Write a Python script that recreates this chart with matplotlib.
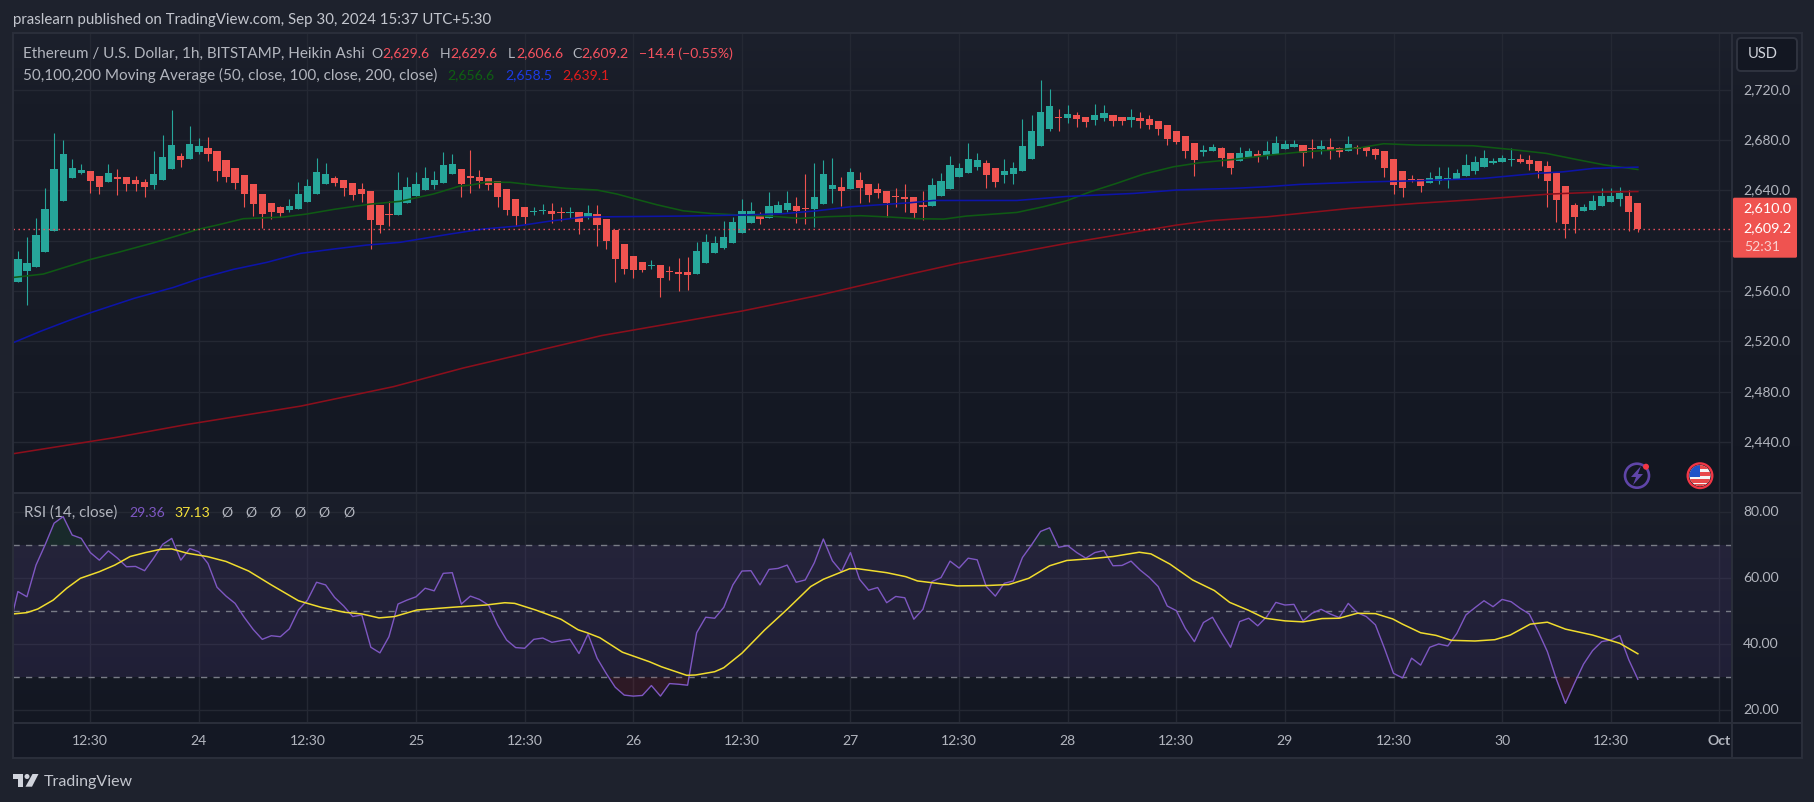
import numpy as np
import matplotlib
matplotlib.use("Agg")
import matplotlib.pyplot as plt
from matplotlib.patches import Circle, FancyBboxPatch, Polygon, Rectangle

W, H = 1815, 802

# Heikin Ashi candles, one per hour
opens = [
    2567.1, 2575.9, 2579.0, 2591.0, 2607.7, 2631.5, 2649.8, 2653.8, 2655.4, 2651.4,
    2646.6, 2650.6, 2650.6, 2648.2, 2646.6, 2644.2, 2648.2, 2657.0, 2667.3, 2664.9,
    2670.5, 2673.7, 2671.3, 2664.1, 2657.8, 2652.2, 2645.0, 2637.1, 2629.9, 2626.7,
    2624.4, 2625.2, 2630.7, 2637.1, 2645.0, 2649.8, 2648.2, 2645.8, 2641.0, 2639.5,
    2628.3, 2621.2, 2620.4, 2629.9, 2635.5, 2640.3, 2644.2, 2645.8, 2653.0, 2657.0,
    2651.4, 2650.6, 2649.8, 2647.4, 2641.0, 2633.1, 2626.7, 2623.0, 2623.8, 2623.6,
    2622.8, 2622.2, 2622.8, 2618.8, 2621.2, 2617.2, 2608.5, 2597.3, 2587.8, 2583.0,
    2580.0, 2580.6, 2575.9, 2575.1, 2575.1, 2573.5, 2582.2, 2590.2, 2594.2, 2598.1,
    2606.1, 2614.0, 2619.6, 2618.0, 2622.0, 2624.4, 2627.5, 2626.0, 2625.2, 2629.1,
    2641.0, 2642.7, 2641.0, 2648.2, 2645.0, 2641.0, 2639.5, 2635.5, 2634.7, 2634.7,
    2628.3, 2627.5, 2635.5, 2641.0, 2650.6, 2653.8, 2658.6, 2661.7, 2657.8, 2652.2,
    2653.0, 2655.4, 2664.9, 2675.2, 2688.8, 2698.3, 2697.5, 2699.9, 2698.3, 2695.9,
    2697.5, 2699.9, 2698.3, 2695.9, 2697.5, 2696.7, 2695.1, 2691.9, 2687.2, 2683.2,
    2677.6, 2670.5, 2671.3, 2673.7, 2669.7, 2663.3, 2666.5, 2668.9, 2667.3, 2668.9,
    2672.9, 2674.5, 2676.0, 2673.7, 2672.9, 2674.5, 2673.7, 2671.3, 2674.5, 2674.5,
    2672.9, 2671.3, 2664.9, 2655.4, 2649.0, 2649.0, 2645.8, 2647.4, 2649.0, 2649.0,
    2651.4, 2655.4, 2658.6, 2661.7, 2662.5, 2664.4, 2664.9, 2664.1, 2663.3, 2659.3,
    2653.8, 2643.4, 2628.3, 2623.6, 2624.4, 2627.5, 2630.7, 2633.1, 2635.5, 2629.6,
]
closes = [
    2585.4, 2582.2, 2604.5, 2625.2, 2657.0, 2668.9, 2657.8, 2656.2, 2647.4, 2642.7,
    2653.8, 2649.0, 2645.0, 2645.0, 2642.7, 2653.0, 2666.5, 2676.0, 2664.1, 2676.8,
    2675.2, 2668.9, 2655.4, 2650.6, 2645.8, 2637.1, 2629.1, 2621.2, 2622.8, 2622.0,
    2627.5, 2637.1, 2643.4, 2654.6, 2653.0, 2645.8, 2641.9, 2636.3, 2637.1, 2616.4,
    2612.4, 2620.4, 2640.3, 2642.7, 2645.0, 2649.8, 2648.2, 2660.1, 2660.9, 2645.0,
    2649.8, 2647.4, 2644.2, 2634.7, 2624.4, 2619.6, 2618.8, 2623.6, 2624.4, 2621.2,
    2622.2, 2622.8, 2614.8, 2622.0, 2612.4, 2599.7, 2585.4, 2577.5, 2576.7, 2576.7,
    2580.6, 2570.3, 2575.1, 2573.5, 2572.7, 2591.8, 2598.9, 2598.1, 2602.9, 2614.8,
    2623.6, 2623.6, 2617.2, 2627.5, 2628.3, 2629.9, 2623.6, 2625.2, 2634.7, 2653.0,
    2644.2, 2639.5, 2654.6, 2641.9, 2636.3, 2637.9, 2629.9, 2634.7, 2633.1, 2622.0,
    2626.7, 2644.2, 2647.4, 2660.1, 2657.8, 2664.9, 2664.1, 2652.2, 2646.6, 2655.4,
    2657.8, 2675.2, 2687.2, 2702.3, 2707.0, 2697.5, 2700.7, 2696.7, 2694.3, 2699.9,
    2701.5, 2695.1, 2695.1, 2698.3, 2695.1, 2691.9, 2688.8, 2680.8, 2678.4, 2671.3,
    2664.1, 2672.1, 2674.5, 2665.7, 2657.8, 2669.7, 2671.3, 2666.5, 2671.3, 2677.6,
    2676.8, 2676.8, 2669.7, 2672.9, 2675.2, 2672.1, 2670.5, 2676.8, 2672.9, 2671.3,
    2668.1, 2657.8, 2644.2, 2641.9, 2648.2, 2643.4, 2649.8, 2651.4, 2649.8, 2653.8,
    2660.1, 2662.5, 2665.7, 2663.3, 2665.7, 2664.9, 2662.5, 2660.9, 2655.4, 2647.4,
    2632.3, 2613.2, 2618.8, 2626.7, 2631.5, 2635.5, 2635.5, 2637.9, 2622.8, 2609.2,
]
highs = [
    2591.8, 2602.9, 2618.0, 2641.9, 2685.6, 2680.0, 2664.9, 2660.9, 2655.4, 2651.4,
    2660.9, 2657.0, 2650.6, 2651.4, 2649.0, 2671.3, 2684.0, 2703.9, 2669.7, 2691.1,
    2681.6, 2682.4, 2671.3, 2664.1, 2657.8, 2652.2, 2645.0, 2637.1, 2629.9, 2627.5,
    2633.1, 2646.6, 2649.0, 2665.7, 2661.7, 2651.4, 2648.2, 2645.8, 2645.8, 2639.5,
    2628.3, 2631.5, 2654.6, 2650.6, 2654.6, 2658.6, 2655.4, 2670.5, 2668.9, 2657.0,
    2672.0, 2656.2, 2649.8, 2647.4, 2641.0, 2633.1, 2626.7, 2626.7, 2629.1, 2629.9,
    2626.7, 2626.7, 2622.8, 2628.3, 2628.3, 2617.2, 2608.5, 2597.3, 2587.8, 2583.0,
    2584.6, 2580.6, 2579.8, 2586.2, 2587.0, 2598.9, 2605.3, 2603.7, 2615.6, 2618.8,
    2633.1, 2630.7, 2622.8, 2638.7, 2631.5, 2639.5, 2634.7, 2653.0, 2661.7, 2664.1,
    2665.7, 2650.6, 2657.8, 2654.6, 2645.0, 2645.8, 2639.5, 2641.9, 2645.0, 2634.7,
    2639.5, 2649.8, 2653.8, 2667.3, 2661.7, 2677.6, 2669.7, 2664.1, 2657.8, 2664.9,
    2662.5, 2696.7, 2699.9, 2727.7, 2720.6, 2704.7, 2707.8, 2702.3, 2698.3, 2708.6,
    2707.8, 2699.9, 2698.3, 2704.7, 2702.3, 2699.9, 2695.1, 2691.9, 2687.2, 2683.2,
    2677.6, 2676.0, 2676.8, 2674.5, 2669.7, 2674.5, 2673.7, 2672.1, 2679.2, 2683.2,
    2680.0, 2680.0, 2676.0, 2680.8, 2680.0, 2681.6, 2674.5, 2683.2, 2676.0, 2675.2,
    2673.7, 2671.3, 2664.9, 2655.4, 2652.2, 2649.0, 2654.6, 2658.6, 2658.6, 2657.0,
    2668.9, 2667.3, 2672.1, 2665.7, 2668.1, 2673.7, 2668.9, 2668.1, 2663.3, 2663.3,
    2654.6, 2643.4, 2629.9, 2629.1, 2636.3, 2641.9, 2641.9, 2642.7, 2640.3, 2629.6,
]
lows = [
    2567.1, 2548.8, 2579.0, 2591.0, 2607.7, 2631.5, 2649.8, 2653.0, 2637.9, 2637.1,
    2646.6, 2636.3, 2639.5, 2639.5, 2634.7, 2641.0, 2648.2, 2657.0, 2658.6, 2664.9,
    2668.9, 2663.3, 2647.4, 2646.6, 2641.0, 2626.7, 2619.6, 2610.1, 2617.2, 2618.8,
    2622.8, 2625.2, 2630.7, 2637.1, 2645.0, 2643.4, 2635.5, 2632.3, 2630.7, 2593.4,
    2606.1, 2611.6, 2620.4, 2629.9, 2635.5, 2640.3, 2641.0, 2645.8, 2653.0, 2634.7,
    2637.9, 2641.9, 2640.3, 2626.7, 2620.4, 2611.6, 2613.2, 2620.4, 2621.2, 2614.0,
    2615.6, 2618.0, 2605.3, 2617.2, 2595.7, 2593.4, 2567.1, 2573.5, 2570.3, 2575.1,
    2577.5, 2555.2, 2568.7, 2560.0, 2560.8, 2573.5, 2582.2, 2590.2, 2593.4, 2598.1,
    2606.1, 2614.0, 2613.2, 2618.0, 2622.0, 2622.8, 2614.0, 2613.2, 2610.8, 2629.1,
    2629.9, 2627.5, 2641.0, 2629.9, 2630.7, 2633.9, 2618.8, 2626.7, 2622.8, 2618.0,
    2616.4, 2627.5, 2635.5, 2641.0, 2650.6, 2653.8, 2656.2, 2641.9, 2642.7, 2645.8,
    2645.0, 2655.4, 2664.9, 2675.2, 2687.2, 2687.2, 2693.5, 2690.4, 2690.4, 2691.9,
    2695.1, 2691.1, 2691.9, 2690.4, 2689.6, 2688.8, 2684.0, 2676.0, 2676.8, 2665.7,
    2651.4, 2667.3, 2671.3, 2659.3, 2653.0, 2663.3, 2666.5, 2662.5, 2664.9, 2668.9,
    2672.9, 2674.5, 2659.3, 2665.7, 2668.9, 2664.9, 2666.5, 2671.3, 2668.9, 2667.3,
    2664.9, 2650.6, 2637.1, 2634.7, 2646.6, 2638.7, 2645.8, 2645.0, 2641.9, 2649.0,
    2651.4, 2653.0, 2658.6, 2660.9, 2662.5, 2659.3, 2661.7, 2656.2, 2649.8, 2626.7,
    2614.8, 2602.1, 2606.1, 2623.6, 2624.4, 2627.5, 2630.7, 2627.5, 2607.7, 2606.6,
]

ma50_bar = [
    -0.5, 2.8, 5.4, 8, 10.9, 15, 17.5, 19.9, 22, 24.9, 27.5, 29.3, 31.9, 34.9, 38.9, 42.2, 45.9,
    48.8, 50, 51.8, 54.4, 57.3, 60.6, 64, 66.2, 68.4, 70.6, 73.5, 76.5, 79.8, 83.1, 86.4, 89.4,
    93.1, 96.4, 99.3, 102.3, 104.8, 110.4, 113.3, 115.9, 118.5, 121.4, 124.4, 127.7, 130.6,
    134.3, 138, 141.7, 145.3, 148.3, 150.9, 154.6, 160.8, 164.9, 168.9, 172.2, 175.2, 179,
]
ma50_val = [
    2570.8, 2573.5, 2579.3, 2585.1, 2590.4, 2598.4, 2603.7, 2609.0, 2612.4, 2617.5, 2618.3,
    2618.8, 2621.2, 2624.9, 2629.1, 2631.3, 2637.1, 2643.4, 2644.2, 2646.6, 2646.4, 2644.0,
    2641.6, 2640.3, 2637.1, 2632.8, 2628.6, 2623.8, 2621.7, 2620.4, 2619.6, 2617.7, 2619.1,
    2619.9, 2618.8, 2617.5, 2617.2, 2619.6, 2622.5, 2627.0, 2631.8, 2638.9, 2645.6, 2653.0,
    2658.8, 2662.0, 2664.6, 2667.8, 2670.5, 2672.1, 2673.9, 2677.1, 2676.0, 2675.5, 2672.6,
    2669.4, 2664.6, 2660.4, 2656.6,
]
ma100_bar = [
    -0.5, 2.5, 5.75, 8, 12.8, 17.2, 20.1, 23.8, 27.5, 31.2, 34.9, 38.5, 42.2, 47.75, 51.4,
    55.1, 58.8, 62.5, 66.2, 73.5, 79.8, 84.6, 88.3, 92, 98.6, 101.2, 110.4, 115.9, 123.3,
    128, 134.3, 138, 141.7, 148.3, 154.6, 161.9, 167.8, 170.8, 174.1, 179,
]
ma100_val = [
    2519.0, 2528.0, 2536.9, 2542.7, 2554.1, 2562.9, 2570.0, 2577.2, 2582.8, 2589.9, 2593.4,
    2596.5, 2598.7, 2605.3, 2609.3, 2611.6, 2615.6, 2618.8, 2619.1, 2619.6, 2620.4, 2621.5,
    2623.8, 2627.0, 2630.2, 2632.0, 2632.0, 2635.2, 2637.6, 2640.3, 2641.6, 2642.9, 2644.8,
    2646.6, 2647.7, 2649.5, 2653.5, 2654.8, 2657.5, 2658.5,
]
ma200_bar = [
    -0.5, 10.8, 18.5, 31.3, 41.5, 49.2, 64.5, 74.3, 80, 88.3, 98.6, 103.9, 115.9, 128, 131.7,
    138, 147.2, 154.6, 161.9, 169.3, 174.8, 179,
]
ma200_val = [
    2430.7, 2443.6, 2453.7, 2468.6, 2484.0, 2498.8, 2524.6, 2536.9, 2544.1, 2556.3, 2573.5,
    2582.0, 2597.9, 2612.4, 2615.9, 2619.0, 2625.7, 2629.7, 2633.1, 2637.1, 2638.7, 2639.1,
]

# RSI, first value sits one bar before the first candle
rsi_val = [
    44.4, 56.0, 54.4, 64.0, 70.1, 76.7, 78.7, 73.1, 72.1, 67.8, 65.5, 68.3, 66.1, 63.5, 63.6,
    62.3, 66.1, 70.3, 72.1, 65.5, 69.0, 68.0, 64.5, 57.3, 54.6, 52.4, 48.2, 44.5, 41.5, 42.6,
    42.3, 44.7, 50.4, 53.4, 58.8, 58.0, 54.2, 51.6, 48.4, 48.9, 39.1, 37.4, 42.3, 52.2, 53.4,
    54.4, 57.0, 56.2, 61.5, 61.7, 52.2, 54.6, 53.6, 51.9, 45.9, 41.3, 39.0, 38.8, 41.5, 41.9,
    40.6, 41.1, 41.5, 37.2, 43.1, 35.8, 31.2, 27.0, 24.6, 24.3, 24.5, 27.5, 24.3, 28.1, 27.9,
    27.6, 43.5, 48.2, 47.9, 51.2, 58.0, 62.2, 62.3, 58.0, 62.7, 63.0, 64.0, 58.8, 59.5, 64.7,
    71.9, 65.3, 62.0, 67.8, 59.7, 56.4, 57.2, 52.6, 54.5, 54.1, 47.6, 50.6, 59.0, 60.2, 65.2,
    63.1, 66.1, 65.6, 57.5, 54.6, 58.5, 59.2, 66.3, 70.1, 74.2, 75.3, 69.4, 69.9, 67.8, 66.1,
    67.8, 68.4, 63.8, 63.9, 65.2, 62.5, 60.3, 57.5, 51.6, 50.2, 44.8, 40.8, 46.6, 48.2, 43.5,
    39.1, 46.9, 47.9, 45.6, 48.4, 52.7, 51.9, 52.1, 47.1, 49.4, 50.6, 49.2, 48.1, 52.4, 49.6,
    48.4, 45.9, 38.8, 31.2, 29.8, 35.8, 33.7, 39.1, 40.1, 39.5, 43.3, 48.9, 51.1, 53.2, 51.4,
    53.6, 52.9, 50.9, 49.2, 43.8, 37.8, 29.4, 22.1, 28.2, 34.0, 38.1, 40.8, 41.3, 42.7, 35.3,
    29.4,
]
rsi_ma_bar = [
    -0.5, 1, 2.2, 3.9, 5.4, 6.9, 9, 10.7, 12.4, 14.1, 15.8, 17, 18.7, 20.9, 23, 25.5, 28, 31,
    33.5, 36.1, 38, 39.9, 41.6, 44.1, 47.9, 51.7, 53.8, 54.9, 57.2, 60, 61.9, 62.9, 64.3, 66.8,
    69.8, 71.1, 73.9, 74.9, 77, 78, 80, 82.5, 85, 87.6, 89, 91.9, 92.8, 96, 98.1, 99.4, 101.5,
    103.8, 107, 109.5, 111.7, 114, 115.9, 118.4, 121, 123.9, 125.2, 127.3, 129.8, 130.7, 132.2,
    133.9, 135.9, 137.8, 140, 142, 144.1, 146, 148, 150, 151.9, 153, 155, 156.7, 158.4, 161,
    163.2, 164.9, 167.1, 169, 171, 174, 177, 179,
]
rsi_ma_val = [
    49.2, 49.6, 50.7, 53.4, 57.0, 60.0, 62.0, 64.0, 66.6, 67.8, 68.8, 68.9, 67.6, 66.6, 65.1,
    62.2, 58.0, 53.2, 51.2, 49.7, 49.2, 48.0, 48.4, 50.4, 51.2, 51.9, 52.6, 52.4, 50.4, 47.6,
    44.4, 43.5, 42.0, 37.6, 34.7, 33.2, 30.6, 30.7, 31.7, 32.9, 37.3, 44.3, 50.6, 57.5, 59.7,
    62.9, 62.9, 61.7, 60.5, 59.2, 58.5, 57.7, 57.8, 58.1, 60.0, 63.8, 65.4, 65.9, 66.6, 67.9,
    67.4, 64.3, 59.5, 58.3, 56.3, 52.7, 50.4, 47.9, 47.1, 46.8, 47.8, 47.9, 49.4, 49.3, 47.7,
    46.1, 43.5, 42.7, 41.2, 41.0, 41.4, 42.8, 46.1, 46.7, 44.6, 42.8, 40.3, 37.13,
]

price_ticks = [2440, 2480, 2520, 2560, 2600, 2640, 2680, 2720]
price_labels = ["2,440.0", "2,480.0", "2,520.0", "2,560.0", "", "2,640.0", "2,680.0", "2,720.0"]
rsi_ticks = [20, 40, 60, 80]
rsi_labels = ["20.00", "40.00", "60.00", "80.00"]
rsi_levels = [30, 50, 70]
time_ticks = [8, 20, 32, 44, 56, 68, 80, 92, 104, 116, 128, 140, 152, 164, 176, 188]
time_labels = ["12:30", "24", "12:30", "25", "12:30", "26", "12:30", "27", "12:30", "28",
               "12:30", "29", "12:30", "30", "12:30", "Oct"]
last_price = 2609.2

UP = "#26a69a"
DOWN = "#ef5350"
GRID = "#242833"
FRAME = "#2b2f3b"
TEXT = "#b2b5be"
RED_TEXT = "#f7525f"
MAIN_FONT = "Lato"

plt.rcParams["font.family"] = [MAIN_FONT, "DejaVu Sans"]

# pane geometry in image pixels
LEFT, RIGHT = 13.0, 1732.0
TOP, SPLIT, BOTTOM = 33.0, 492.6, 723.3
MAIN_STOPS = [(0, 28, 32, 44), (0.15, 24, 28, 39), (0.6, 23, 27, 38), (1, 19, 23, 34)]
RSI_STOPS = [(0, 26, 30, 42), (1, 19, 23, 34)]


def pane(top, bottom, left=LEFT, right=RIGHT):
    return [left / W, 1 - bottom / H, (right - left) / W, (bottom - top) / H]


def bar_at(px):
    return 8 + (px - 90.3) / 9.05


def gradient(ax, stops):
    # vertical background, stops are (position, r, g, b)
    pos = np.linspace(0, 1, 256)
    rows = [np.interp(pos, [s[0] for s in stops], [s[c] for s in stops]) for c in (1, 2, 3)]
    img = np.stack(rows, axis=1)[:, None, :] / 255.0
    ax.imshow(img, extent=(0, 1, 0, 1), transform=ax.transAxes, aspect="auto", zorder=0,
              interpolation="bilinear")


fig = plt.figure(figsize=(W / 100, H / 100), dpi=100, facecolor="#1e222d")

ax = fig.add_axes(pane(TOP, SPLIT))
ax_rsi = fig.add_axes(pane(SPLIT, BOTTOM))
gradient(ax, MAIN_STOPS)
gradient(ax_rsi, RSI_STOPS)

# the price scale strip follows the same shading as the panes
for top, bottom, stops in ((TOP, SPLIT, MAIN_STOPS), (SPLIT, BOTTOM, RSI_STOPS)):
    strip = fig.add_axes(pane(top, bottom, RIGHT, 1802))
    gradient(strip, stops)
    strip.axis("off")

for a in (ax, ax_rsi):
    a.set_xlim(bar_at(LEFT), bar_at(RIGHT))
    a.set_xticks(time_ticks)
    a.set_xticklabels([])
    a.tick_params(length=0, labelleft=False, labelbottom=False)
    a.grid(True, color=GRID, linewidth=1.0, zorder=1)
    a.set_axisbelow(True)
    for s in a.spines.values():
        s.set_visible(False)

ax.set_ylim(2640 - (SPLIT - 190.4) / 1.258, 2640 + (190.4 - TOP) / 1.258)
ax.set_yticks(price_ticks)
ax_rsi.set_ylim(70 - (BOTTOM - 545.3) / 3.3, 70 + (545.3 - SPLIT) / 3.3)
ax_rsi.set_yticks(rsi_ticks)

# candles
bars = np.arange(len(opens))
o, c = np.array(opens), np.array(closes)
up = c >= o
colors = np.where(up, UP, DOWN)
ax.vlines(bars, lows, highs, colors=colors, linewidth=0.8, zorder=3)
ax.bar(bars, np.abs(c - o), bottom=np.minimum(o, c), width=0.8, color=colors, linewidth=0, zorder=3)

ax.plot(ma50_bar, ma50_val, color="#0f5a14", linewidth=1.15, zorder=4)
ax.plot(ma100_bar, ma100_val, color="#0d14a8", linewidth=1.15, zorder=4)
ax.plot(ma200_bar, ma200_val, color="#8b0f1c", linewidth=1.15, zorder=4)
ax.axhline(last_price, color="#f7525f", linewidth=1.0, linestyle=(0, (1, 2.6)), zorder=5)

# RSI pane
rsi_bars = np.arange(-1, len(opens))
rsi = np.array(rsi_val)
ax_rsi.axhspan(30, 70, color="#7e57c2", alpha=0.12, linewidth=0, zorder=1.5)
for level in rsi_levels:
    ax_rsi.axhline(level, color="#787b86", linewidth=1.0, linestyle=(0, (4.5, 4.5)), zorder=2)
ax_rsi.fill_between(rsi_bars, rsi, 70, where=rsi > 70, interpolate=True, color="#1f6b3a",
                    alpha=0.18, linewidth=0, zorder=2)
ax_rsi.fill_between(rsi_bars, rsi, 30, where=rsi < 30, interpolate=True, color="#8a2030",
                    alpha=0.22, linewidth=0, zorder=2)
ax_rsi.plot(rsi_bars, rsi, color="#7e57c2", linewidth=1.0, zorder=4)
ax_rsi.plot(rsi_ma_bar, rsi_ma_val, color="#f0dc2e", linewidth=1.1, zorder=5)

# overlay in image pixels for labels, frame and icons
ov = fig.add_axes([0, 0, 1, 1], zorder=10)
ov.set_xlim(0, W)
ov.set_ylim(H, 0)
ov.axis("off")
ov.patch.set_alpha(0)


def label(x, y, s, color=TEXT, size=10.1, ha="left", **kw):
    ov.text(x, y, s, color=color, fontsize=size, ha=ha, va="center", **kw)


def price_y(p):
    return 190.4 - (p - 2640) * 1.258


def rsi_y(v):
    return 545.3 - (v - 70) * 3.3


def bar_x(i):
    return 90.3 + 9.05 * (i - 8)


# frame
ov.add_patch(Rectangle((13, 33), 1789, 724.5, fill=False, edgecolor=FRAME, linewidth=1.4))
ov.add_patch(Rectangle((14, 724), 1787, 33, facecolor="#141824", edgecolor="none", zorder=0.5))
ov.plot([13, 1802], [SPLIT, SPLIT], color=FRAME, linewidth=1.4)
ov.plot([13, 1802], [BOTTOM, BOTTOM], color=FRAME, linewidth=1.4)
ov.plot([RIGHT, RIGHT], [33, 757.5], color=FRAME, linewidth=1.4)

# headers
label(13, 20, "praslearn published on TradingView.com, Sep 30, 2024 15:37 UTC+5:30", color="#c3c6ce", size=10.8)
label(23, 53.5, "Ethereum / U.S. Dollar, 1h, BITSTAMP, Heikin Ashi", size=11)
for x, s, col in [(371, "O", TEXT), (382, "2,629.6", RED_TEXT), (440, "H", TEXT), (450, "2,629.6", RED_TEXT),
                  (507.5, "L", TEXT), (516, "2,606.6", RED_TEXT), (572, "C", TEXT), (581, "2,609.2", RED_TEXT),
                  (639, "\u221214.4 (\u22120.55%)", RED_TEXT)]:
    label(x, 53.5, s, color=col)
label(23, 75, "50,100,200 Moving Average (50, close, 100, close, 200, close)", size=10.95)
label(447, 75, "2,656.6", color="#0e5f12")
label(505, 75, "2,658.5", color="#1c3be6")
label(562, 75, "2,639.1", color="#e01c1c")

label(23.7, 512.7, "RSI (14, close)", size=11)
label(129, 512.7, "29.36", color="#7e57c2")
label(174.5, 512.7, "37.13", color="#f5e13a")
for x in (226.5, 250.7, 275.3, 299.7, 324, 348.6):
    label(x, 512.7, "\u00d8", ha="center", size=10.1)

# axis labels
for p, s in zip(price_ticks, price_labels):
    label(1743, price_y(p), s)
for v, s in zip(rsi_ticks, rsi_labels):
    label(1743, rsi_y(v), s)
for i, s in zip(time_ticks, time_labels):
    label(bar_x(i), 740.7, s, ha="center", fontweight="bold" if s == "Oct" else "normal")

# USD button and last price tag
ov.add_patch(FancyBboxPatch((1740, 41), 54, 27, boxstyle="round,pad=3,rounding_size=4",
                            facecolor="#131722", edgecolor="#2f333f", linewidth=1.4))
label(1748, 54.5, "USD", color="#d1d4dc", size=10.6)
ov.add_patch(FancyBboxPatch((1733, 197.7), 64, 60, boxstyle="round,pad=0,rounding_size=1.5",
                            facecolor="#ef5350", edgecolor="none", zorder=3))
label(1743, 207.7, "2,610.0", color="#ffffff", size=10.4, zorder=4)
label(1743, 228, "2,609.2", color="#ffffff", size=10.4, zorder=4)
label(1744, 246.7, "52:31", color="#f9d0cf", zorder=4)

# event icons
ov.add_patch(Circle((1637, 475.7), 12, fill=False, edgecolor="#5f45a8", linewidth=1.9))
ov.add_patch(Polygon([(1641, 466), (1631, 477), (1636, 477), (1633, 485), (1643, 474), (1638, 474)],
                     closed=True, facecolor="#5f45a8", edgecolor="none"))
ov.add_patch(Circle((1646, 466.7), 3, facecolor="#f23645", edgecolor="none"))
ring = Circle((1700, 475.7), 10.5, facecolor="#f4f4f4", edgecolor="none")
ov.add_patch(ring)
for y0, h0 in ((465, 3.5), (472, 3.5), (479, 3.5), (484, 2.5)):
    stripe = Rectangle((1688, y0), 24, h0, facecolor="#e8484a", edgecolor="none")
    ov.add_patch(stripe)
    stripe.set_clip_path(ring)
canton = Rectangle((1688, 464), 12, 12.5, facecolor="#1d52c8", edgecolor="none")
ov.add_patch(canton)
canton.set_clip_path(ring)
ov.add_patch(Circle((1700, 475.7), 12.3, fill=False, edgecolor="#f23645", linewidth=1.7))

# logo
LOGO = "#d1d4dc"
ov.add_patch(Polygon([(13, 774), (23.5, 774), (23.5, 786.7), (18, 786.7), (18, 779), (13, 779)],
                     closed=True, facecolor=LOGO, edgecolor="none"))
ov.add_patch(Circle((27, 776.5), 2.5, facecolor=LOGO, edgecolor="none"))
ov.add_patch(Polygon([(32.5, 774), (38.5, 774), (32, 786.7), (25.5, 786.7)],
                     closed=True, facecolor=LOGO, edgecolor="none"))
label(43.5, 782, "TradingView", color="#c3c6ce", size=11.5)

fig.savefig("out.png", dpi=100, facecolor=fig.get_facecolor())
